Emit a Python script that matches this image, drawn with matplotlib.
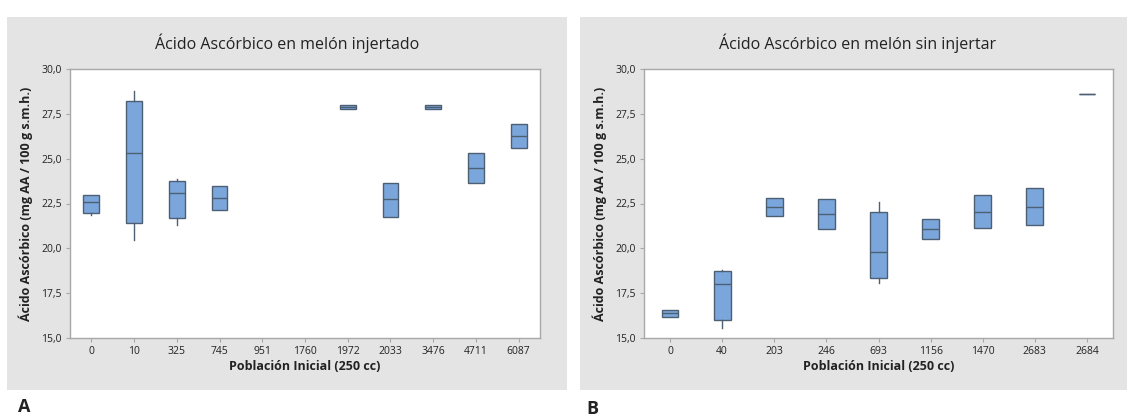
import matplotlib
matplotlib.use("Agg")
import matplotlib.pyplot as plt
from matplotlib.patches import Rectangle

plt.rcParams['font.family'] = ['Open Sans', 'DejaVu Sans']

# ---- Data: panel A (melón injertado) ----
cats_a = ["0", "10", "325", "745", "951", "1760", "1972", "2033", "3476", "4711", "6087"]
q1_a   = [21.96, 21.39, 21.67, 22.15, None, None, 27.75, 21.76, 27.75, 23.67, 25.62]
med_a  = [22.57, 25.34, 23.08, 22.80, None, None, 27.88, 22.74, 27.88, 24.47, 26.27]
q3_a   = [22.95, 28.24, 23.73, 23.45, None, None, 27.99, 23.67, 27.99, 25.34, 26.96]
wlo_a  = [21.87, 20.44, 21.28, 22.15, None, None, 27.75, 21.76, 27.75, 23.67, 25.62]
whi_a  = [22.95, 28.79, 23.86, 23.45, None, None, 27.99, 23.67, 27.99, 25.34, 26.96]

# ---- Data: panel B (melón sin injertar) ----
cats_b = ["0", "40", "203", "246", "693", "1156", "1470", "2683", "2684"]
q1_b   = [16.17, 16.00, 21.81, 21.07, 18.34, 20.51, 21.16, 21.28, 28.59]
med_b  = [16.39, 18.03, 22.33, 21.89, 19.77, 21.07, 22.04, 22.30, 28.59]
q3_b   = [16.56, 18.71, 22.80, 22.74, 22.00, 21.61, 22.96, 23.34, 28.59]
wlo_b  = [16.17, 15.56, 21.81, 21.07, 18.06, 20.51, 21.16, 21.28, 28.59]
whi_b  = [16.56, 18.81, 22.80, 22.74, 22.56, 21.61, 22.96, 23.34, 28.59]

titles = ["Ácido Ascórbico en melón injertado", "Ácido Ascórbico en melón sin injertar"]
xlabel = "Población Inicial (250 cc)"
ylabel = "Ácido Ascórbico (mg AA / 100 g s.m.h.)"
yticks = [15.0, 17.5, 20.0, 22.5, 25.0, 27.5, 30.0]
ytick_labels = ["15,0", "17,5", "20,0", "22,5", "25,0", "27,5", "30,0"]

W, H = 1127, 416
fig = plt.figure(figsize=(W / 100, H / 100), dpi=100, facecolor="white")

panel_col = "#e4e4e4"
box_face = "#7ba6dc"
box_edge = "#4d5f73"
text_col = "#222222"
spine_col = "#a8a8a8"

def px_rect(x0, y0, x1, y1):
    return [x0 / W, 1 - y1 / H, (x1 - x0) / W, (y1 - y0) / H]

# panel backgrounds
for (x0, x1) in [(7, 567), (580, 1140)]:
    r = px_rect(x0, 17, x1, 390)
    fig.patches.append(Rectangle((r[0], r[1]), r[2], r[3], transform=fig.transFigure,
                                 facecolor=panel_col, edgecolor="none", zorder=-10))

ax_a = fig.add_axes(px_rect(70, 69, 540, 338))
ax_b = fig.add_axes(px_rect(644, 69, 1113, 338))

def draw(ax, cats, q1, med, q3, wlo, whi, width):
    stats = []
    pos = []
    for i, c in enumerate(cats):
        if med[i] is None:
            continue
        stats.append(dict(med=med[i], q1=q1[i], q3=q3[i], whislo=wlo[i], whishi=whi[i], fliers=[]))
        pos.append(i)
    ax.bxp(stats, positions=pos, widths=width, patch_artist=True, showcaps=False,
           boxprops=dict(facecolor=box_face, edgecolor=box_edge, linewidth=1.0),
           medianprops=dict(color=box_edge, linewidth=1.0),
           whiskerprops=dict(color=box_edge, linewidth=1.0),
           manage_ticks=False)
    ax.set_xlim(-0.5, len(cats) - 0.5)
    ax.set_ylim(15, 30)
    ax.set_xticks(range(len(cats)))
    ax.set_xticklabels(cats)
    ax.set_yticks(yticks)
    ax.set_yticklabels(ytick_labels)
    ax.tick_params(axis="both", labelsize=7.5, colors=spine_col, labelcolor=text_col,
                   length=3, width=0.8, pad=3)
    for s in ax.spines.values():
        s.set_color(spine_col)
        s.set_linewidth(1.0)
    ax.set_facecolor("white")
    ax.set_xlabel(xlabel, fontsize=9, fontweight="bold", color=text_col, labelpad=2)
    ax.set_ylabel(ylabel, fontsize=9, fontweight="bold", color=text_col, labelpad=6)

draw(ax_a, cats_a, q1_a, med_a, q3_a, wlo_a, whi_a, 0.37)
draw(ax_b, cats_b, q1_b, med_b, q3_b, wlo_b, whi_b, 0.32)

fig.text(287 / W, 1 - 43 / H, titles[0], ha="center", va="center", fontsize=11.5, color=text_col)
fig.text(858 / W, 1 - 43 / H, titles[1], ha="center", va="center", fontsize=11.5, color=text_col)

fig.text(18 / W, 1 - 407 / H, "A", ha="left", va="center", fontsize=13, fontweight="bold", color=text_col)
fig.text(586 / W, 1 - 409 / H, "B", ha="left", va="center", fontsize=13, fontweight="bold", color=text_col)

fig.savefig("out.png", dpi=100, facecolor="white")
